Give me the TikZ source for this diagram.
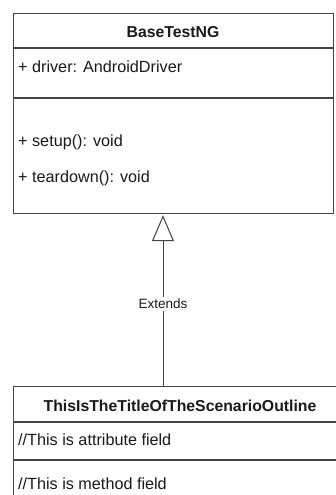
\documentclass[tikz,border=0pt]{standalone}
\usepackage{fontspec}
\setmainfont{Liberation Sans}
\usetikzlibrary{arrows.meta}
\definecolor{edge}{HTML}{444444}
\definecolor{ink}{HTML}{1A1A1A}
\tikzset{
  classbox/.style={draw=edge, line width=1.2pt, fill=white, rectangle, inner sep=0pt, anchor=north west},
  divider/.style={draw=edge, line width=1.2pt},
  title/.style={font=\bfseries\fontsize{15.8}{18}\selectfont, text=ink, inner sep=0pt},
  member/.style={font=\fontsize{16.2}{19}\selectfont, text=ink, inner sep=0pt, anchor=west},
  extends/.style={draw=edge, line width=1pt, -{Triangle[open, length=26pt, width=22pt, line width=1pt]}},
  edgelabel/.style={font=\fontsize{13.5}{16}\selectfont, text=ink, fill=white, inner sep=2pt}
}
\begin{document}
\begin{tikzpicture}[x=1pt,y=-1pt]
\useasboundingbox (0,0) rectangle (336,495);
\clip (0,0) rectangle (336,495);
\fill[white] (0,0) rectangle (336,495);

% parent class
\node[classbox, minimum width=320pt, minimum height=200pt] (base) at (13,13) {};
\draw[divider] (13,48) -- (333,48);
\draw[divider] (13,98) -- (333,98);
\node[title] (baseT) at (173,32) {BaseTestNG};
\node[member] (baseA) at (18,67) {+ driver: AndroidDriver};
\node[member] (baseM1) at (18,142) {+ setup(): void};
\node[member] (baseM2) at (18,178) {+ teardown(): void};

% child class
\node[classbox, minimum width=334pt, minimum height=140pt] (sub) at (13,386) {};
\draw[divider] (13,422) -- (347,422);
\draw[divider] (13,460) -- (347,460);
\node[title] (subT) at (180,406) {ThisIsTheTitleOfTheScenarioOutline};
\node[member] (subA) at (18,440) {//This is attribute field};
\node[member] (subM) at (18,484) {//This is method field};

% generalisation
\draw[extends] ([xshift=150pt]sub.north west) -- node[edgelabel, pos=0.48] (ext) {Extends} ([xshift=150pt,yshift=-1pt]base.south west);
\end{tikzpicture}
\end{document}
